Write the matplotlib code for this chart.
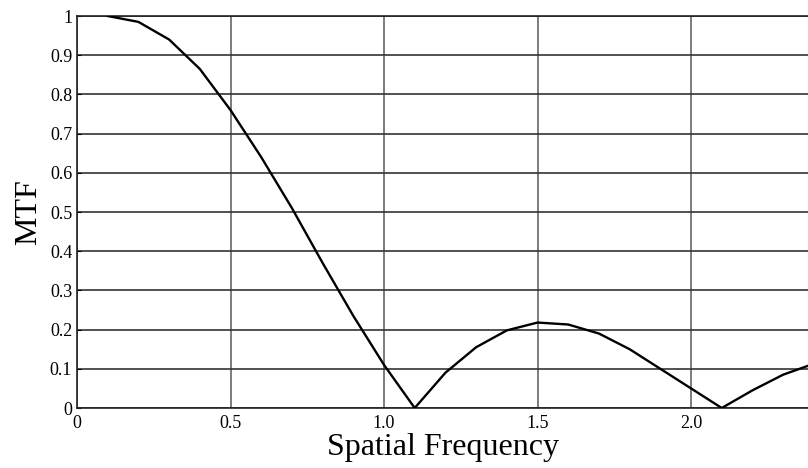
import matplotlib
matplotlib.use("Agg")
import matplotlib.pyplot as plt

# MTF curve sampled every 0.1 in spatial frequency
freq = [0.1, 0.2, 0.3, 0.4, 0.5, 0.6, 0.7, 0.8, 0.9, 1.0, 1.1, 1.2,
        1.3, 1.4, 1.5, 1.6, 1.7, 1.8, 1.9, 2.0, 2.1, 2.2, 2.3, 2.4]
mtf = [1.0, 0.985, 0.94, 0.865, 0.76, 0.64, 0.51, 0.37, 0.235, 0.11, 0.0, 0.09,
       0.155, 0.198, 0.218, 0.213, 0.19, 0.15, 0.10, 0.05, 0.0, 0.045, 0.085, 0.113]

xticks = [0, 0.5, 1.0, 1.5, 2.0]
xtick_labels = ["0", "0.5", "1.0", "1.5", "2.0"]
yticks = [0, 0.1, 0.2, 0.3, 0.4, 0.5, 0.6, 0.7, 0.8, 0.9, 1.0]
ytick_labels = ["0", "0.1", "0.2", "0.3", "0.4", "0.5", "0.6", "0.7", "0.8", "0.9", "1"]

plt.rcParams['font.family'] = ['Liberation Serif', 'DejaVu Serif']

fig = plt.figure(figsize=(8.08, 4.68), dpi=100)
ax = fig.add_axes([0.0953, 0.1282, 0.9047, 0.8376])

ax.plot(freq, mtf, color='black', linewidth=1.7, zorder=3)

ax.set_xlim(0, 2.381)
ax.set_ylim(0, 1)
ax.set_xticks(xticks)
ax.set_xticklabels(xtick_labels)
ax.set_yticks(yticks)
ax.set_yticklabels(ytick_labels)
ax.tick_params(axis='both', labelsize=13, length=3, width=0.8, direction='in')
ax.tick_params(axis='x', length=0, pad=5)

ax.grid(True, axis='x', color='#666666', linewidth=1.2)
ax.grid(True, axis='y', color='#333333', linewidth=1.2)

ax.spines['right'].set_visible(False)
for side in ['left', 'top', 'bottom']:
    ax.spines[side].set_color('#222222')
    ax.spines[side].set_linewidth(1.2)

ax.set_xlabel("Spatial Frequency", fontsize=23, labelpad=1)
ax.set_ylabel("MTF", fontsize=23, labelpad=5)

fig.savefig("out.png", dpi=100)
